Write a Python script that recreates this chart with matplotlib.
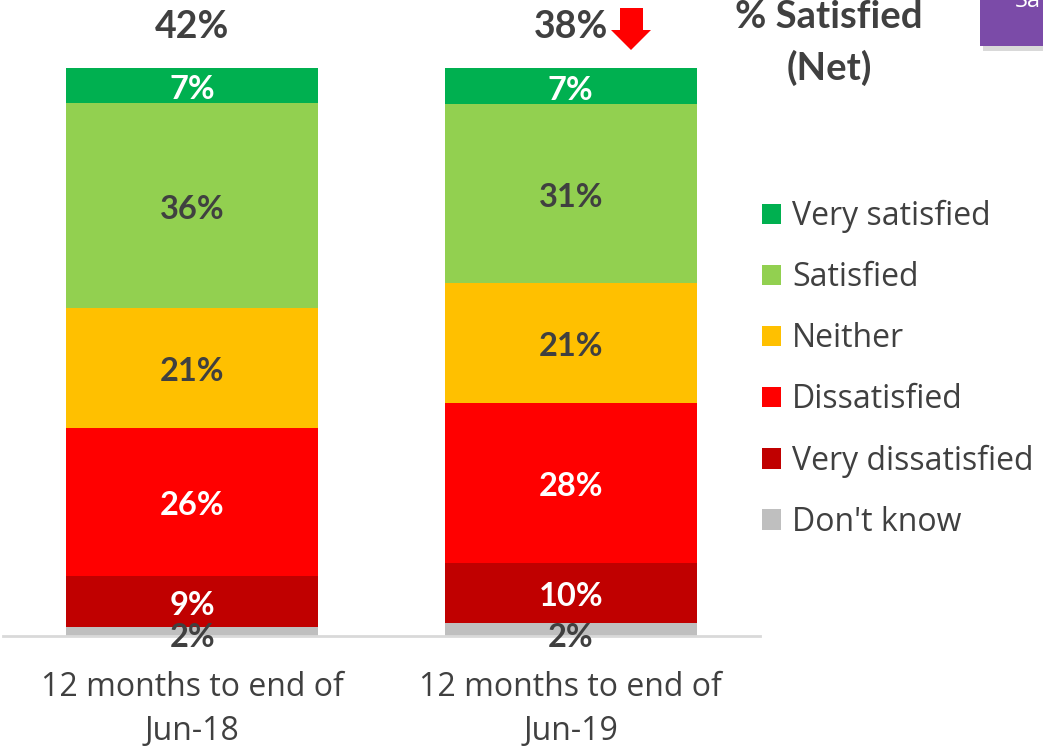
import matplotlib
matplotlib.use("Agg")
import matplotlib.pyplot as plt
from matplotlib.patches import Rectangle, Polygon
import numpy as np

categories = ["12 months to end of\nJun-18", "12 months to end of\nJun-19"]
segments = ["Don't know", "Very dissatisfied", "Dissatisfied", "Neither", "Satisfied", "Very satisfied"]
# estimated shares (bottom to top)
shares_jun18 = [1.6, 9.0, 26.1, 21.1, 36.1, 6.2]
shares_jun19 = [2.3, 10.6, 28.2, 21.1, 31.5, 6.3]
# printed labels (bottom to top)
labels_jun18 = ["2%", "9%", "26%", "21%", "36%", "7%"]
labels_jun19 = ["2%", "10%", "28%", "21%", "31%", "7%"]
net_satisfied = ["42%", "38%"]

colors = ["#BFBFBF", "#C00000", "#FF0000", "#FFC000", "#92D050", "#00B050"]
label_colors = ["#404040", "white", "white", "#404040", "#404040", "white"]

W, H = 1043, 746
fig = plt.figure(figsize=(W / 100, H / 100), dpi=100)
ax = fig.add_axes([3 / W, 110 / H, 757 / W, 636 / H])
ax.set_xlim(-0.5, 1.5)
ax.set_ylim(0, 112)

x = np.arange(len(categories))
width = 0.667
shares = [shares_jun18, shares_jun19]
labels = [labels_jun18, labels_jun19]

lab_font = "Lato"
bars_handles = []
for i in range(len(categories)):
    bottom = 0
    for j, seg in enumerate(segments):
        v = shares[i][j]
        b = ax.bar(x[i], v, width, bottom=bottom, color=colors[j], edgecolor="none", zorder=2)
        if i == 0:
            bars_handles.append(b)
        cy = bottom + v / 2 - 0.7
        if j == 0:
            cy = bottom - 0.2
        ax.text(x[i], cy, labels[i][j], ha="center", va="center", fontsize=23.5, fontweight="bold",
                color=label_colors[j], family=lab_font, zorder=3)
        bottom += v
    ax.text(x[i], 107.3, net_satisfied[i], ha="center", va="center", fontsize=27, fontweight="bold",
            color="#404040", family=lab_font)

for s in ["left", "right", "top"]:
    ax.spines[s].set_visible(False)
ax.spines["bottom"].set_color("#D9D9D9")
ax.spines["bottom"].set_linewidth(2)
ax.set_yticks([])
ax.set_xticks(x)
ax.set_xticklabels(categories, fontsize=23, color="#404040", family="Open Sans", linespacing=1.45)
ax.tick_params(axis="x", length=0, pad=25)

# red down arrow next to 38%
arrow_px = [(620, 8), (643, 8), (643, 30), (651, 30), (631, 50), (611, 30), (620, 30)]
fig.patches.append(Polygon([(px / W, 1 - py / H) for px, py in arrow_px], closed=True,
                           transform=fig.transFigure, facecolor="#FF0000", edgecolor="none"))

# title text
fig.text(829 / W, 1 - 17 / H, "% Satisfied", ha="center", va="center", fontsize=27.5,
         fontweight="bold", color="#404040", family="Lato")
fig.text(829 / W, 1 - 68 / H, "(Net)", ha="center", va="center", fontsize=27.5,
         fontweight="bold", color="#404040", family="Lato")

# purple box (partially cut)
fig.patches.append(Rectangle((983 / W, 1 - 51 / H), 70 / W, 60 / H, transform=fig.transFigure,
                             facecolor="#D9D9D9", edgecolor="none", zorder=1))
fig.patches.append(Rectangle((980 / W, 1 - 46 / H), 70 / W, 60 / H, transform=fig.transFigure,
                             facecolor="#7B4BA8", edgecolor="none", zorder=2))
fig.text(1015 / W, 1 - 1 / H, "Sa", ha="left", va="center", fontsize=17,
         color="white", family="Open Sans", zorder=3)

# legend
handles = [bars_handles[j] for j in range(len(segments) - 1, -1, -1)]
leg_labels = segments[::-1]
leg = fig.legend(handles, leg_labels, loc="upper left", bbox_to_anchor=(733 / W, 1 - 171 / H),
                 frameon=False, handlelength=0.6, handleheight=0.6,
                 handletextpad=0.35, labelspacing=0.88, prop={"family": "Open Sans", "size": 23})
for t in leg.get_texts():
    t.set_color("#404040")

fig.savefig("out.png", dpi=100)
